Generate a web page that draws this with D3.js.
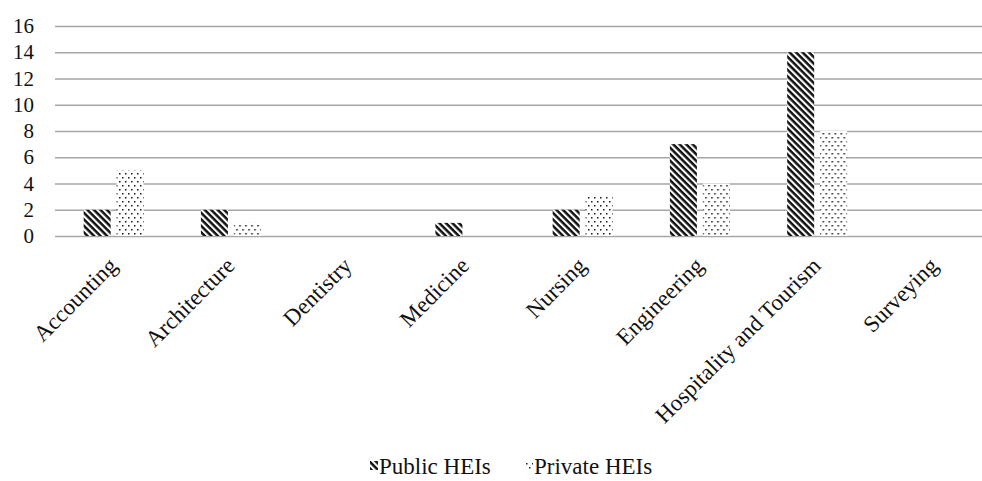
<!DOCTYPE html>
<html lang="en">
<head>
  <meta charset="UTF-8">
  <title>HEIs by discipline</title>
  <script src="https://cdn.jsdelivr.net/npm/d3@7"></script>
  <style>
    body { margin: 0; background: #fff; }
    svg { display: block; }
    text { font-family: "Liberation Serif", "Times New Roman", serif; }
  </style>
</head>
<body>
<script>
  const categories = ['Accounting', 'Architecture', 'Dentistry', 'Medicine', 'Nursing', 'Engineering', 'Hospitality and Tourism', 'Surveying']
  const seriesNames = ['Public HEIs', 'Private HEIs']
  const publicVals = [2, 2, 0, 1, 2, 7, 14, 0]
  const privateVals = [5, 1, 0, 0, 3, 4, 8, 0]
  const yTicks = [0, 2, 4, 6, 8, 10, 12, 14, 16]

  const width = 982, height = 481
  const m = { top: 26, left: 55, right: -11, bottom: 245 }
  const serif = '"Liberation Serif", "Times New Roman", serif'

  const svg = d3.select('body').append('svg')
    .attr('width', width)
    .attr('height', height)

  // fill patterns
  const defs = svg.append('defs')
  const stripes = defs.append('pattern')
    .attr('id', 'stripes')
    .attr('patternUnits', 'userSpaceOnUse')
    .attr('width', 4.6).attr('height', 4.6)
    .attr('patternTransform', 'rotate(45)')
  stripes.append('rect').attr('width', 4.6).attr('height', 4.6).attr('fill', '#fff')
  stripes.append('rect').attr('width', 4.6).attr('height', 2.5).attr('fill', '#111')

  const dots = defs.append('pattern')
    .attr('id', 'dots')
    .attr('patternUnits', 'userSpaceOnUse')
    .attr('width', 6).attr('height', 8)
  dots.append('rect').attr('width', 6).attr('height', 8).attr('fill', '#fff')
  dots.append('rect').attr('x', 1).attr('y', 1).attr('width', 1.5).attr('height', 1.5).attr('fill', '#1a1a1a')
  dots.append('rect').attr('x', 4).attr('y', 5).attr('width', 1.5).attr('height', 1.5).attr('fill', '#1a1a1a')

  const fills = ['url(#stripes)', 'url(#dots)']

  const x = d3.scaleBand()
    .domain(categories)
    .range([m.left, width - m.right])

  const x1 = d3.scaleBand()
    .domain(seriesNames)
    .range([0, x.bandwidth()])
    .paddingInner(0.18)
    .paddingOuter(0.87)

  const y = d3.scaleLinear()
    .domain([0, 16])
    .range([height - m.bottom, m.top])

  // gridlines + y labels
  svg.append('g')
    .attr('transform', `translate(${m.left},0)`)
    .call(d3.axisLeft(y).tickValues(yTicks).tickSize(-(width - m.right - m.left)).tickFormat(d3.format('d')))
    .attr('font-family', serif)
    .attr('font-size', 21)
    .call(g => g.select('.domain').remove())
    .call(g => g.selectAll('.tick line').attr('stroke', '#a6a6a6').attr('stroke-width', 1.3))
    .call(g => g.selectAll('.tick text')
      .attr('x', -21).attr('text-anchor', 'end')
      .attr('fill', '#111'))

  // bars
  const rows = categories.map((c, i) => ({ cat: c, vals: [publicVals[i], privateVals[i]] }))
  const groups = svg.append('g').selectAll('g')
    .data(rows)
    .join('g')
    .attr('transform', d => `translate(${x(d.cat)},0)`)

  groups.selectAll('rect')
    .data(d => d.vals.map((v, k) => ({ name: seriesNames[k], v, k })))
    .join('rect')
    .attr('x', d => x1(d.name))
    .attr('width', x1.bandwidth())
    .attr('y', d => y(d.v))
    .attr('height', d => y(0) - y(d.v))
    .attr('fill', d => fills[d.k])

  // category labels
  svg.append('g').selectAll('text')
    .data(categories)
    .join('text')
    .attr('transform', d => `translate(${x(d) + x.bandwidth() / 2 + 5},${y(0) + 31}) rotate(-45)`)
    .attr('text-anchor', 'end')
    .attr('font-size', 23)
    .attr('fill', '#111')
    .text(d => d)

  // legend
  const legend = svg.append('g').attr('transform', 'translate(0,474)')
  const legendX = [370, 525]
  seriesNames.forEach((name, k) => {
    legend.append('rect')
      .attr('x', legendX[k]).attr('y', -13)
      .attr('width', 8).attr('height', 9)
      .attr('fill', fills[k])
    legend.append('text')
      .attr('x', legendX[k] + 9).attr('y', 0)
      .attr('font-size', 23)
      .attr('fill', '#111')
      .text(name)
  })
</script>
</body>
</html>
